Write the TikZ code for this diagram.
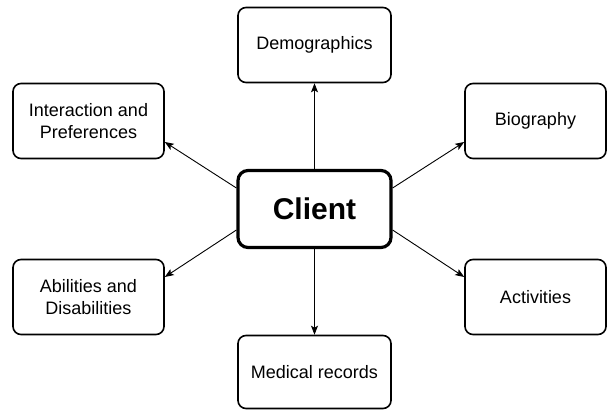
\documentclass[tikz,border=0pt]{standalone}
\usepackage{fontspec}
\setmainfont{Liberation Sans}
\usetikzlibrary{arrows.meta}
\begin{document}
\begin{tikzpicture}[x=1pt,y=-1pt,
  box/.style={draw=black, line width=1.6pt, rounded corners=8pt, fill=white,
    align=center, inner sep=0pt, font=\fontsize{18}{21.5}\selectfont},
  centre/.style={draw=black, line width=3.2pt, rounded corners=10pt, fill=white,
    align=center, inner sep=0pt, font=\fontsize{30}{34}\selectfont\bfseries},
  link/.style={draw=black, line width=0.9pt, -{Stealth[length=9pt,width=7pt,inset=2pt]}}]
\useasboundingbox (0,0) rectangle (608,410);
\node[box, minimum width=153pt, minimum height=75pt] (demo) at (314.5,45) {Demographics};
\node[box, minimum width=151pt, minimum height=75pt] (inter) at (88.5,121) {Interaction and\\Preferences};
\node[box, minimum width=141pt, minimum height=75pt] (bio) at (535.5,121) {Biography};
\node[centre, minimum width=153pt, minimum height=77pt] (client) at (314.5,209) {Client};
\node[box, minimum width=151pt, minimum height=75pt] (abil) at (88.5,297) {Abilities and\\Disabilities};
\node[box, minimum width=141pt, minimum height=75pt] (act) at (535.5,297) {Activities};
\node[box, minimum width=153pt, minimum height=73pt] (med) at (314.5,372) {Medical records};
\draw[link] (client.north) -- (demo.south);
\draw[link] (client.south) -- (med.north);
\draw[link] ([yshift=21pt]client.west) -- ([yshift=-21pt]inter.east);
\draw[link] ([yshift=21pt]client.east) -- ([yshift=-21pt]bio.west);
\draw[link] ([yshift=-21pt]client.west) -- ([yshift=20pt]abil.east);
\draw[link] ([yshift=-21pt]client.east) -- ([yshift=20pt]act.west);
\end{tikzpicture}
\end{document}
